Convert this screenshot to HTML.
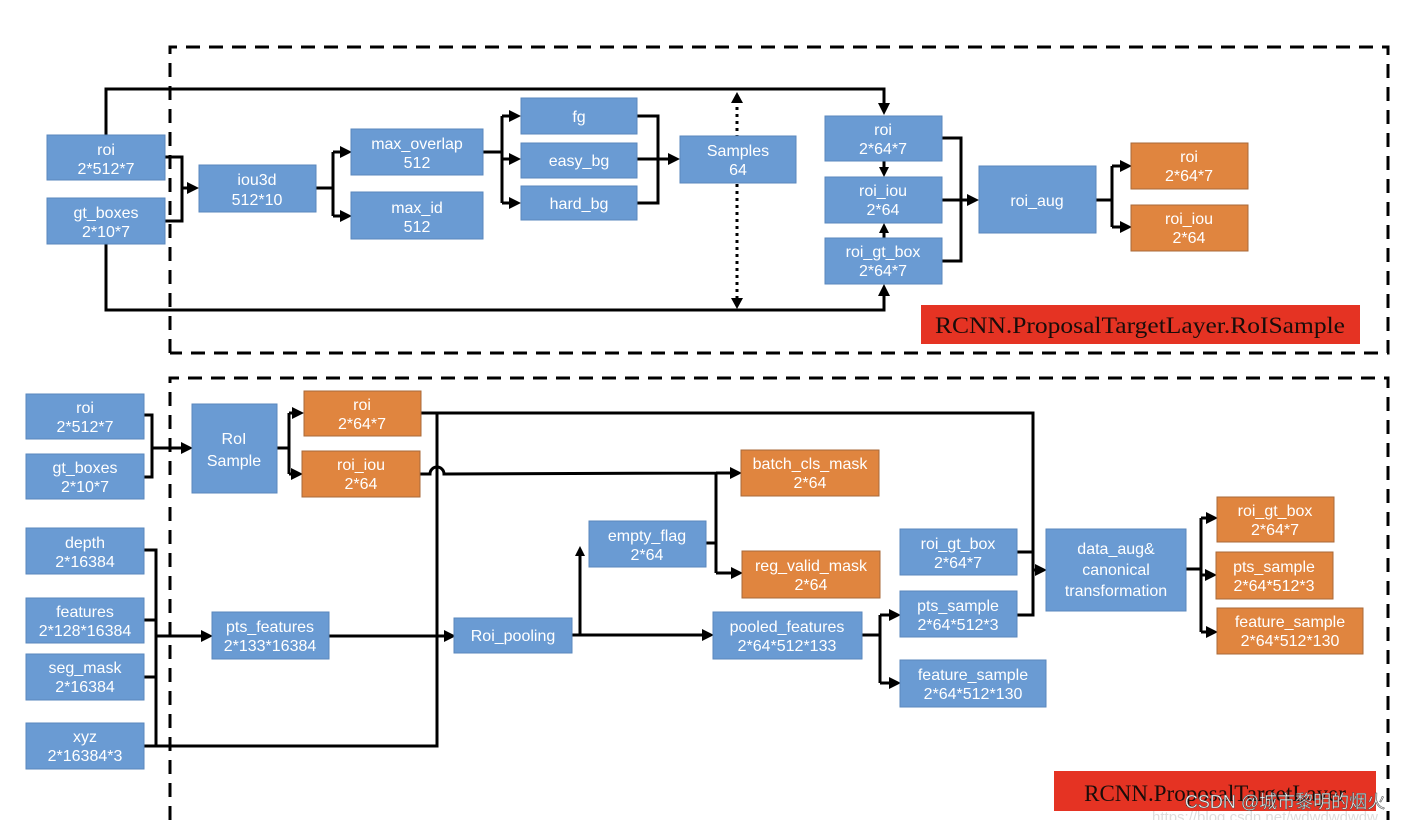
<!DOCTYPE html>
<html><head><meta charset="utf-8"><style>
html,body{margin:0;padding:0;background:#fff;}
svg{display:block;}
text{font-family:"Liberation Sans","Noto Sans CJK SC",sans-serif;fill:#fff;font-size:16px;text-anchor:middle;}
.b{fill:#6a9bd3;stroke:#5a87bd;stroke-width:1;}
.o{fill:#e0853f;stroke:#a8693a;stroke-width:1;}
.l{fill:none;stroke:#000;stroke-width:3;}
.d{fill:none;stroke:#000;stroke-width:3;stroke-dasharray:14,9;}
</style></head><body>
<svg width="1408" height="820" viewBox="0 0 1408 820" xmlns="http://www.w3.org/2000/svg">
<defs>
<marker id="a" markerWidth="10" markerHeight="10" refX="7" refY="5" orient="auto" markerUnits="userSpaceOnUse"><path d="M0,0 L10,5 L0,10 z" fill="#000"/></marker>
<marker id="a2" markerWidth="12" markerHeight="12" refX="9" refY="6" orient="auto" markerUnits="userSpaceOnUse"><path d="M0,0 L12,6 L0,12 z" fill="#000"/></marker>
</defs>
<path class="d" d="M170,353 L170,47 L1388,47 L1388,353 L170,353"/>
<path class="d" d="M170,820 L170,378 L1388,378 L1388,820"/>

<path class="l" d="M106,135 L106,89 L884,89 L884,112" marker-end="url(#a2)"/>
<path class="l" d="M106,244 L106,310 L884,310 L884,287" marker-end="url(#a2)"/>
<path d="M737,100 L737,302" stroke="#000" stroke-width="3" stroke-dasharray="3,4" fill="none"/>
<path d="M731,103 L737,92 L743,103 z M731,298 L737,309 L743,298 z" fill="#000"/>
<path class="l" d="M165,157 L182,157 L182,221 L165,221 M182,188 L196,188" marker-end="url(#a2)"/>
<path class="l" d="M316,188 L333,188 M333,152 L333,216 M333,152 L349,152" marker-end="url(#a2)"/>
<path class="l" d="M333,216 L349,216" marker-end="url(#a2)"/>
<path class="l" d="M483,152 L502,152 M502,116 L502,203 M502,116 L518,116" marker-end="url(#a2)"/>
<path class="l" d="M502,159 L518,159" marker-end="url(#a2)"/>
<path class="l" d="M502,203 L518,203" marker-end="url(#a2)"/>
<path class="l" d="M637,116 L658,116 L658,203 L637,203 M637,159 L677,159" marker-end="url(#a2)"/>
<path class="l" d="M884,161 L884,174" marker-end="url(#a)"/>
<path class="l" d="M884,238 L884,226" marker-end="url(#a)"/>
<path class="l" d="M942,138 L961,138 L961,261 L942,261 M942,200 L976,200" marker-end="url(#a2)"/>
<path class="l" d="M1096,200 L1112,200 M1112,166 L1112,227 M1112,166 L1129,166" marker-end="url(#a2)"/>
<path class="l" d="M1112,227 L1129,227" marker-end="url(#a2)"/>

<rect class="b" x="47" y="135" width="118" height="45"/><text x="106" y="155">roi</text><text x="106" y="174" font-size="14">2*512*7</text>
<rect class="b" x="47" y="198" width="118" height="46"/><text x="106" y="218">gt_boxes</text><text x="106" y="237" font-size="14">2*10*7</text>
<rect class="b" x="199" y="165" width="117" height="47"/><text x="257" y="185">iou3d</text><text x="257" y="205" font-size="14">512*10</text>
<rect class="b" x="351" y="129" width="132" height="46"/><text x="417" y="149">max_overlap</text><text x="417" y="168" font-size="14">512</text>
<rect class="b" x="351" y="192" width="132" height="47"/><text x="417" y="213">max_id</text><text x="417" y="232" font-size="14">512</text>
<rect class="b" x="521" y="98" width="116" height="36"/><text x="579" y="122">fg</text>
<rect class="b" x="521" y="143" width="116" height="35"/><text x="579" y="166">easy_bg</text>
<rect class="b" x="521" y="186" width="116" height="34"/><text x="579" y="209">hard_bg</text>
<rect class="b" x="680" y="136" width="116" height="47"/><text x="738" y="156">Samples</text><text x="738" y="175" font-size="14">64</text>
<rect class="b" x="825" y="116" width="117" height="45"/><text x="883" y="135">roi</text><text x="883" y="154" font-size="14">2*64*7</text>
<rect class="b" x="825" y="177" width="117" height="46"/><text x="883" y="196">roi_iou</text><text x="883" y="215" font-size="14">2*64</text>
<rect class="b" x="825" y="238" width="117" height="46"/><text x="883" y="257">roi_gt_box</text><text x="883" y="276" font-size="14">2*64*7</text>
<rect class="b" x="979" y="166" width="117" height="67"/><text x="1037" y="206">roi_aug</text>
<rect class="o" x="1131" y="143" width="117" height="46"/><text x="1189" y="162">roi</text><text x="1189" y="181" font-size="14">2*64*7</text>
<rect class="o" x="1131" y="205" width="117" height="46"/><text x="1189" y="224">roi_iou</text><text x="1189" y="243" font-size="14">2*64</text>
<rect x="921" y="305" width="439" height="39" fill="#e53323"/>
<text x="1140" y="333" style="fill:#1a0d0a;font-family:'Liberation Serif',serif;font-size:23px" textLength="410" lengthAdjust="spacingAndGlyphs">RCNN.ProposalTargetLayer.RoISample</text>

<path class="l" d="M144,415 L152,415 L152,477 L144,477 M152,448 L190,448" marker-end="url(#a2)"/>
<path class="l" d="M277,448 L289,448 M289,413 L289,474 M289,413 L301,413" marker-end="url(#a2)"/>
<path class="l" d="M289,474 L300,474" marker-end="url(#a2)"/>
<path class="l" d="M421,413 L1033,413 L1033,615 L1017,615 M1017,552 L1033,552 M1033,570 L1044,570" marker-end="url(#a2)"/>
<path class="l" d="M437,413 L437,746 L144,746"/>
<path class="l" d="M420,474 L430,474 A7,7 0 0 1 444,474 L716,473 L716,573 M716,473 L739,473" marker-end="url(#a2)"/>
<path class="l" d="M716,573 L740,573" marker-end="url(#a2)"/>
<path class="l" d="M706,543 L716,543"/>
<path class="l" d="M144,550 L156,550 L156,746 M144,620 L156,620 M144,677 L156,677 M156,636 L210,636" marker-end="url(#a2)"/>
<path class="l" d="M329,636 L453,636" marker-end="url(#a2)"/>
<path class="l" d="M572,635 L711,635" marker-end="url(#a2)"/>
<path class="l" d="M580,635 L580,549" marker-end="url(#a)"/>
<path class="l" d="M862,635 L880,635 M880,615 L880,683 M880,615 L898,615" marker-end="url(#a2)"/>
<path class="l" d="M880,683 L898,683" marker-end="url(#a2)"/>
<path class="l" d="M1186,569 L1201,569 M1201,518 L1201,632 M1201,518 L1215,518" marker-end="url(#a2)"/>
<path class="l" d="M1201,575 L1214,575" marker-end="url(#a2)"/>
<path class="l" d="M1201,632 L1215,632" marker-end="url(#a2)"/>

<rect class="b" x="26" y="394" width="118" height="45"/><text x="85" y="413">roi</text><text x="85" y="432" font-size="14">2*512*7</text>
<rect class="b" x="26" y="454" width="118" height="45"/><text x="85" y="473">gt_boxes</text><text x="85" y="492" font-size="14">2*10*7</text>
<rect class="b" x="192" y="404" width="85" height="89"/><text x="234" y="444">RoI</text><text x="234" y="466">Sample</text>
<rect class="o" x="304" y="391" width="117" height="45"/><text x="362" y="410">roi</text><text x="362" y="429" font-size="14">2*64*7</text>
<rect class="o" x="302" y="451" width="118" height="46"/><text x="361" y="470">roi_iou</text><text x="361" y="489" font-size="14">2*64</text>
<rect class="b" x="26" y="528" width="118" height="46"/><text x="85" y="548">depth</text><text x="85" y="567" font-size="14">2*16384</text>
<rect class="b" x="26" y="598" width="118" height="45"/><text x="85" y="617">features</text><text x="85" y="636" font-size="14">2*128*16384</text>
<rect class="b" x="26" y="654" width="118" height="46"/><text x="85" y="673">seg_mask</text><text x="85" y="692" font-size="14">2*16384</text>
<rect class="b" x="26" y="723" width="118" height="46"/><text x="85" y="742">xyz</text><text x="85" y="761" font-size="14">2*16384*3</text>
<rect class="b" x="212" y="612" width="117" height="47"/><text x="270" y="632">pts_features</text><text x="270" y="651" font-size="14">2*133*16384</text>
<rect class="b" x="454" y="618" width="118" height="35"/><text x="513" y="641">Roi_pooling</text>
<rect class="b" x="589" y="521" width="117" height="46"/><text x="647" y="541">empty_flag</text><text x="647" y="560" font-size="14">2*64</text>
<rect class="o" x="741" y="450" width="138" height="46"/><text x="810" y="469">batch_cls_mask</text><text x="810" y="488" font-size="14">2*64</text>
<rect class="o" x="742" y="551" width="138" height="47"/><text x="811" y="571">reg_valid_mask</text><text x="811" y="590" font-size="14">2*64</text>
<rect class="b" x="713" y="612" width="149" height="47"/><text x="787" y="632">pooled_features</text><text x="787" y="651" font-size="14">2*64*512*133</text>
<rect class="b" x="900" y="529" width="117" height="46"/><text x="958" y="549">roi_gt_box</text><text x="958" y="568" font-size="14">2*64*7</text>
<rect class="b" x="900" y="591" width="117" height="46"/><text x="958" y="611">pts_sample</text><text x="958" y="630" font-size="14">2*64*512*3</text>
<rect class="b" x="900" y="660" width="146" height="47"/><text x="973" y="680">feature_sample</text><text x="973" y="699" font-size="14">2*64*512*130</text>
<rect class="b" x="1046" y="529" width="140" height="82"/><text x="1116" y="554">data_aug&amp;</text><text x="1116" y="575">canonical</text><text x="1116" y="596">transformation</text>
<rect class="o" x="1217" y="497" width="117" height="45"/><text x="1275" y="516">roi_gt_box</text><text x="1275" y="535" font-size="14">2*64*7</text>
<rect class="o" x="1216" y="552" width="117" height="47"/><text x="1274" y="572">pts_sample</text><text x="1274" y="591" font-size="14">2*64*512*3</text>
<rect class="o" x="1217" y="608" width="146" height="46"/><text x="1290" y="627">feature_sample</text><text x="1290" y="646" font-size="14">2*64*512*130</text>
<rect x="1054" y="771" width="322" height="40" fill="#e53323"/>
<text x="1215" y="801" style="fill:#1a0d0a;font-family:'Liberation Serif',serif;font-size:23px">RCNN.ProposalTargetLayer</text>
<text x="1285" y="808" style="fill:#fff;stroke:#555;stroke-width:0.6;font-size:18px">CSDN @城市黎明的烟火</text>
<text x="1265" y="822" style="fill:#ddd;font-size:15px">https://blog.csdn.net/wdwdwdwdw</text>
</svg>
</body></html>
